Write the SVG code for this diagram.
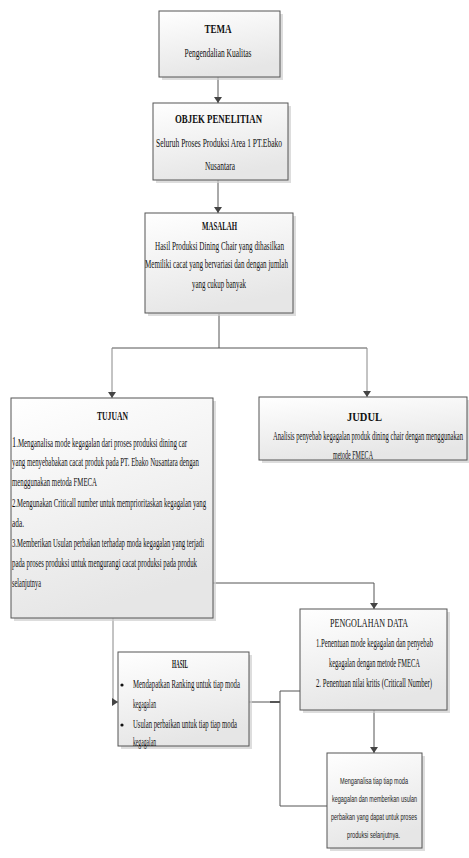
<svg xmlns="http://www.w3.org/2000/svg" width="469" height="858" viewBox="0 0 469 858">
<style>
.box{fill:url(#g);stroke:#555;stroke-width:1}
.sh{fill:#cfcfcf;opacity:0.7}
.t{font-family:"Liberation Serif","Times New Roman",serif;font-size:11.5px;fill:#111}
.tb{font-family:"Liberation Serif","Times New Roman",serif;font-size:13.5px;font-weight:bold;fill:#111}
.s{font-family:"Liberation Sans",Arial,sans-serif;font-size:9px;fill:#222}
.m{text-anchor:middle}
.c{fill:none;stroke:#555;stroke-width:1}
.cl{fill:none;stroke:#888;stroke-width:1}
</style>
<defs>
<linearGradient id="g" x1="0" y1="0" x2="0.3" y2="1">
<stop offset="0" stop-color="#ffffff"/>
<stop offset="1" stop-color="#e6e6e6"/>
</linearGradient>
<marker id="a" viewBox="0 0 6 10" refX="6" refY="5" markerWidth="6" markerHeight="10" markerUnits="userSpaceOnUse" orient="auto">
<path d="M0,1 L6,5 L0,9 Z" fill="#444"/>
</marker>
</defs>

<g id="connectors">
<line class="c" x1="218" y1="77" x2="218" y2="103" marker-end="url(#a)"/>
<line class="c" x1="218" y1="180" x2="218" y2="213" marker-end="url(#a)"/>
<polyline class="c" points="219,314 219,348"/>
<polyline class="c" points="112,348 367,348"/>
<line class="cl" x1="112" y1="348" x2="112" y2="398" marker-end="url(#a)"/>
<line class="cl" x1="367" y1="348" x2="367" y2="397" marker-end="url(#a)"/>
<polyline class="c" points="213,583 374,583 374,609" marker-end="url(#a)"/>
<polyline class="cl" points="113,618 113,702 118,702" marker-end="url(#a)"/>
<polyline class="c" points="240,702 280,702"/>
<line x1="270" y1="702" x2="280" y2="702" stroke="#555" stroke-width="2"/>
<polyline class="c" points="300,691 280,691 280,806 327,806"/>
<line class="c" x1="374" y1="710" x2="374" y2="753" marker-end="url(#a)"/>
</g>

<g id="tema">
<rect class="sh" x="162" y="14" width="121" height="66"/>
<rect class="box" x="159" y="11" width="121" height="66"/>
<text class="tb m" x="218" y="33" textLength="27" lengthAdjust="spacingAndGlyphs">TEMA</text>
<text class="t m" x="218" y="57" textLength="67" lengthAdjust="spacingAndGlyphs">Pengendalian Kualitas</text>
</g>

<g id="objek">
<rect class="sh" x="156" y="106" width="135" height="77"/>
<rect class="box" x="153" y="103" width="135" height="77"/>
<text class="tb m" x="218.5" y="123" textLength="87" lengthAdjust="spacingAndGlyphs">OBJEK PENELITIAN</text>
<text class="t m" x="219" y="147" textLength="126" lengthAdjust="spacingAndGlyphs">Seluruh Proses Produksi Area 1 PT.Ebako</text>
<text class="t m" x="220" y="170" textLength="30" lengthAdjust="spacingAndGlyphs">Nusantara</text>
</g>

<g id="masalah">
<rect class="sh" x="148" y="216" width="148" height="100"/>
<rect class="box" x="145" y="213" width="148" height="100"/>
<text class="tb m" x="219.5" y="230" font-size="12.5" textLength="35" lengthAdjust="spacingAndGlyphs">MASALAH</text>
<text class="t m" x="219.5" y="250" textLength="129" lengthAdjust="spacingAndGlyphs">Hasil Produksi Dining Chair  yang dihasilkan</text>
<text class="t m" x="216.5" y="268" textLength="143" lengthAdjust="spacingAndGlyphs">Memiliki cacat yang bervariasi dan dengan jumlah</text>
<text class="t m" x="219" y="288" textLength="54" lengthAdjust="spacingAndGlyphs">yang cukup banyak</text>
</g>

<g id="tujuan">
<rect class="sh" x="14" y="401" width="202" height="220"/>
<rect class="box" x="11" y="398" width="202" height="220"/>
<text class="tb m" x="112.5" y="420" textLength="31" lengthAdjust="spacingAndGlyphs">TUJUAN</text>
<text class="t" x="12" y="447" textLength="175" lengthAdjust="spacingAndGlyphs"><tspan font-size="14">1</tspan>.Menganalisa mode kegagalan dari proses produksi dining car</text>
<text class="t" x="12" y="466" textLength="187" lengthAdjust="spacingAndGlyphs">yang menyebabakan cacat produk pada PT. Ebako Nusantara dengan</text>
<text class="t" x="12" y="486" textLength="85" lengthAdjust="spacingAndGlyphs">menggunakan metoda FMECA</text>
<text class="t" x="12" y="507" textLength="194" lengthAdjust="spacingAndGlyphs">2.Mengunakan Criticall number untuk memprioritaskan kegagalan yang</text>
<text class="t" x="12" y="527" textLength="12" lengthAdjust="spacingAndGlyphs">ada.</text>
<text class="t" x="12" y="547" textLength="192" lengthAdjust="spacingAndGlyphs">3.Memberikan Usulan perbaikan terhadap moda kegagalan yang terjadi</text>
<text class="t" x="12" y="567" textLength="185" lengthAdjust="spacingAndGlyphs">pada proses produksi untuk mengurangi cacat produksi pada produk</text>
<text class="t" x="12" y="587" textLength="29" lengthAdjust="spacingAndGlyphs">selanjutnya</text>
</g>

<g id="judul">
<rect class="sh" x="262" y="400" width="208" height="63"/>
<rect class="box" x="259" y="397" width="208" height="63"/>
<text class="tb m" x="364.5" y="421" textLength="35" lengthAdjust="spacingAndGlyphs">JUDUL</text>
<text class="t m" x="368" y="440" font-size="11" textLength="190" lengthAdjust="spacingAndGlyphs">Analisis penyebab kegagalan produk  dining chair dengan menggunakan</text>
<text class="t m" x="353" y="459" font-size="11" textLength="40" lengthAdjust="spacingAndGlyphs">metode FMECA</text>
</g>

<g id="pengolahan">
<rect class="sh" x="303" y="612" width="147" height="101"/>
<rect class="box" x="300" y="609" width="147" height="101"/>
<text class="t m" x="369" y="627" textLength="78" lengthAdjust="spacingAndGlyphs">PENGOLAHAN DATA</text>
<text class="t m" x="374.5" y="647" textLength="117" lengthAdjust="spacingAndGlyphs">1.Penentuan mode kegagalan dan penyebab</text>
<text class="t m" x="374.5" y="667" textLength="91" lengthAdjust="spacingAndGlyphs">kegagalan dengan metode FMECA</text>
<text class="t m" x="374" y="687" textLength="116" lengthAdjust="spacingAndGlyphs">2. Penentuan nilai kritis (Criticall Number)</text>
</g>

<g id="hasil">
<rect class="sh" x="121" y="655" width="131" height="94"/>
<rect class="box" x="118" y="652" width="131" height="94"/>
<text class="tb m" x="180" y="668" font-size="11.5" textLength="16" lengthAdjust="spacingAndGlyphs">HASIL</text>
<circle cx="122" cy="685" r="1.6" fill="#111"/>
<text class="t" x="133" y="688" textLength="107" lengthAdjust="spacingAndGlyphs">Mendapatkan Ranking untuk tiap moda</text>
<text class="t" x="133" y="708" textLength="23" lengthAdjust="spacingAndGlyphs">kegagalan</text>
<circle cx="122" cy="725" r="1.6" fill="#111"/>
<text class="t" x="133" y="728" textLength="104" lengthAdjust="spacingAndGlyphs">Usulan perbaikan untuk tiap tiap moda</text>
<text class="t" x="133" y="746" textLength="23" lengthAdjust="spacingAndGlyphs">kegagalan</text>
</g>

<g id="analisa">
<rect class="sh" x="330" y="756" width="95" height="95"/>
<rect class="box" x="327" y="753" width="95" height="95"/>
<text class="s m" x="374" y="784" textLength="68" lengthAdjust="spacingAndGlyphs">Menganalisa tiap tiap moda</text>
<text class="s m" x="374.5" y="802" textLength="85" lengthAdjust="spacingAndGlyphs">kegagalan dan memberikan usulan</text>
<text class="s m" x="374" y="820" textLength="86" lengthAdjust="spacingAndGlyphs">perbaikan yang dapat untuk proses</text>
<text class="s m" x="373.5" y="838" textLength="53" lengthAdjust="spacingAndGlyphs">produksi selanjutnya.</text>
</g>
</svg>
